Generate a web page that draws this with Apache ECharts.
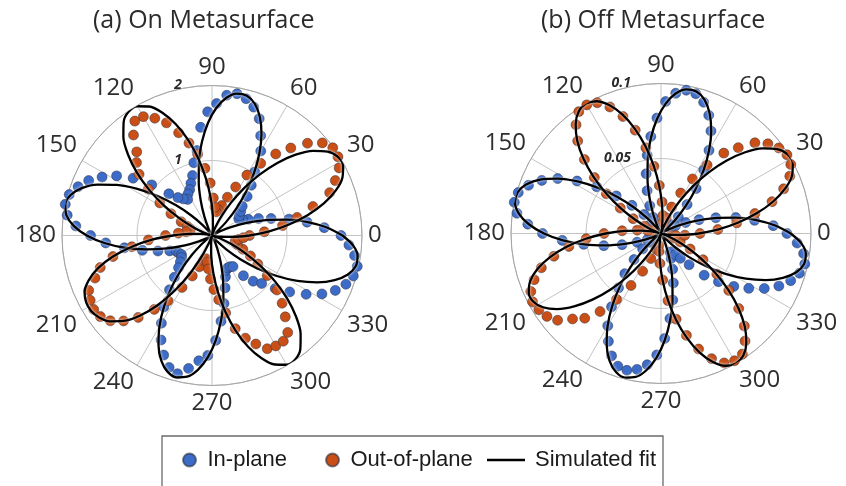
<!DOCTYPE html>
<html>
<head>
<meta charset="utf-8">
<script src="https://cdn.jsdelivr.net/npm/echarts@6/dist/echarts.min.js"></script>
<style>
html,body{margin:0;padding:0;background:#fff;}
#chart{width:846px;height:486px;}
</style>
</head>
<body>
<div id="chart"></div>
<script>
// polarisation angle (degrees), 4-degree steps
const angles = [0,4,8,12,16,20,24,28,32,36,40,44,48,52,56,60,64,68,72,76,80,84,88,92,96,100,104,108,112,116,120,124,128,132,136,140,144,148,152,156,160,164,168,172,176,180,184,188,192,196,200,204,208,212,216,220,224,228,232,236,240,244,248,252,256,260,264,268,272,276,280,284,288,292,296,300,304,308,312,316,320,324,328,332,336,340,344,348,352,356];

// (a) On Metasurface
const onInPlane = [1.72,1.50,1.28,1.05,0.82,0.66,0.53,0.46,0.42,0.45,
0.50,0.56,0.70,0.85,1.02,1.30,1.48,1.68,1.80,1.88,
1.92,1.88,1.76,1.65,1.45,1.15,1.00,0.84,0.75,0.68,
0.64,0.58,0.62,0.68,0.80,1.05,1.30,1.50,1.66,1.80,
1.90,1.98,2.00,1.95,1.82,1.62,1.42,1.18,0.95,0.75,
0.60,0.52,0.50,0.48,0.50,0.55,0.62,0.75,0.92,1.15,
1.35,1.55,1.72,1.85,1.90,1.80,1.68,1.60,1.40,1.15,
0.92,0.72,0.58,0.50,0.48,0.48,0.50,0.68,0.82,0.92,
1.10,1.28,1.48,1.66,1.80,1.90,1.96,1.98,1.92,1.83];
const onOutPlane = [0.50,0.70,0.95,1.16,1.40,1.67,1.80,1.92,1.98,1.99,
1.92,1.77,1.57,1.38,1.16,0.93,0.72,0.55,0.42,0.35,
0.32,0.38,0.50,0.70,0.90,1.10,1.27,1.44,1.62,1.74,
1.83,1.84,1.70,1.50,1.40,1.27,1.05,0.82,0.62,0.45,
0.35,0.30,0.30,0.35,0.45,0.62,0.85,1.08,1.35,1.55,
1.66,1.80,1.84,1.86,1.84,1.77,1.64,1.47,1.25,1.05,
0.80,0.60,0.45,0.35,0.32,0.36,0.45,0.58,0.72,0.86,
1.05,1.28,1.44,1.56,1.68,1.70,1.70,1.64,1.46,1.30,
1.13,0.91,0.72,0.58,0.45,0.36,0.32,0.32,0.36,0.42];
const onFitIn = [1.740,1.536,1.289,1.019,0.747,0.493,0.276,0.115,0.021,0.021,
0.113,0.271,0.483,0.731,0.999,1.263,1.505,1.704,1.847,1.921,
1.921,1.847,1.704,1.505,1.263,0.999,0.731,0.483,0.271,0.113,
0.021,0.002,0.060,0.191,0.384,0.625,0.895,1.174,1.438,1.669,
1.848,1.961,2.000,1.961,1.848,1.669,1.438,1.174,0.895,0.625,
0.384,0.191,0.060,0.002,0.059,0.186,0.375,0.610,0.873,1.144,
1.402,1.627,1.802,1.912,1.950,1.912,1.802,1.627,1.402,1.144,
0.873,0.610,0.375,0.186,0.059,0.002,0.002,0.021,0.115,0.276,
0.493,0.747,1.019,1.289,1.536,1.740,1.885,1.960,1.960,1.885];
const onFitOut = [0.498,0.754,1.030,1.302,1.551,1.757,1.904,1.980,1.980,1.904,
1.757,1.551,1.302,1.030,0.754,0.498,0.279,0.116,0.022,0.002,
0.022,0.117,0.281,0.500,0.758,1.035,1.309,1.559,1.766,1.914,
1.990,1.990,1.914,1.766,1.559,1.309,1.035,0.758,0.500,0.281,
0.117,0.022,0.060,0.150,0.300,0.520,0.800,1.080,1.350,1.580,
1.750,1.860,1.900,1.900,1.860,1.780,1.640,1.440,1.180,0.880,
0.580,0.300,0.100,0.010,0.002,0.022,0.117,0.281,0.500,0.758,
1.035,1.309,1.559,1.766,1.914,1.990,1.990,1.914,1.766,1.559,
1.309,1.035,0.758,0.500,0.281,0.117,0.022,0.022,0.116,0.279];

// (b) Off Metasurface
const offInPlane = [0.084,0.075,0.063,0.051,0.038,0.027,0.018,0.011,0.008,0.007,
0.009,0.016,0.026,0.038,0.051,0.064,0.076,0.085,0.092,0.096,
0.097,0.094,0.088,0.077,0.065,0.053,0.041,0.030,0.020,0.012,
0.008,0.007,0.010,0.017,0.027,0.039,0.053,0.066,0.078,0.087,
0.094,0.099,0.100,0.097,0.089,0.079,0.066,0.052,0.039,0.027,
0.017,0.010,0.007,0.007,0.010,0.016,0.025,0.036,0.046,0.059,
0.071,0.080,0.088,0.093,0.094,0.092,0.088,0.081,0.070,0.057,
0.045,0.034,0.025,0.018,0.014,0.014,0.017,0.021,0.028,0.040,
0.050,0.060,0.069,0.078,0.086,0.092,0.096,0.098,0.096,0.091];
const offOutPlane = [0.026,0.038,0.051,0.064,0.077,0.087,0.094,0.098,0.099,0.097,
0.093,0.087,0.077,0.068,0.055,0.042,0.030,0.019,0.011,0.007,
0.008,0.012,0.021,0.032,0.045,0.058,0.071,0.082,0.091,0.097,
0.099,0.098,0.092,0.083,0.071,0.058,0.045,0.032,0.021,0.012,
0.007,0.006,0.009,0.016,0.026,0.038,0.050,0.062,0.073,0.083,
0.090,0.095,0.097,0.096,0.094,0.090,0.082,0.076,0.066,0.053,
0.040,0.028,0.018,0.011,0.008,0.008,0.012,0.020,0.031,0.045,
0.058,0.070,0.081,0.090,0.096,0.098,0.097,0.091,0.083,0.072,
0.059,0.046,0.033,0.022,0.014,0.009,0.007,0.007,0.010,0.016];
const offFitIn = [0.0865,0.0764,0.0641,0.0507,0.0371,0.0245,0.0137,0.0057,0.0011,0.0011,
0.0057,0.0137,0.0245,0.0371,0.0507,0.0641,0.0764,0.0865,0.0938,0.0975,
0.0975,0.0938,0.0865,0.0764,0.0641,0.0507,0.0371,0.0245,0.0137,0.0057,
0.0011,0.0011,0.0059,0.0140,0.0250,0.0379,0.0517,0.0655,0.0780,0.0883,
0.0957,0.0995,0.0995,0.0957,0.0883,0.0780,0.0655,0.0517,0.0379,0.0250,
0.0140,0.0059,0.0011,0.0001,0.0030,0.0095,0.0190,0.0310,0.0443,0.0581,
0.0712,0.0826,0.0915,0.0971,0.0990,0.0971,0.0915,0.0826,0.0712,0.0581,
0.0443,0.0310,0.0190,0.0095,0.0030,0.0001,0.0001,0.0011,0.0057,0.0137,
0.0245,0.0371,0.0507,0.0641,0.0764,0.0865,0.0938,0.0975,0.0975,0.0938];
const offFitOut = [0.0250,0.0379,0.0517,0.0655,0.0780,0.0883,0.0957,0.0995,0.0995,0.0957,
0.0883,0.0780,0.0655,0.0517,0.0379,0.0250,0.0140,0.0059,0.0011,0.0001,
0.0030,0.0096,0.0192,0.0313,0.0448,0.0587,0.0719,0.0835,0.0924,0.0981,
0.1000,0.0981,0.0924,0.0835,0.0719,0.0587,0.0448,0.0313,0.0192,0.0096,
0.0030,0.0011,0.0057,0.0136,0.0243,0.0368,0.0502,0.0635,0.0756,0.0857,
0.0928,0.0965,0.0965,0.0928,0.0857,0.0756,0.0635,0.0502,0.0368,0.0243,
0.0136,0.0057,0.0011,0.0001,0.0001,0.0030,0.0096,0.0192,0.0313,0.0448,
0.0587,0.0719,0.0835,0.0924,0.0981,0.1000,0.0981,0.0924,0.0835,0.0719,
0.0587,0.0448,0.0313,0.0192,0.0096,0.0030,0.0001,0.0011,0.0059,0.0140];

const titles = ['(a) On Metasurface', '(b) Off Metasurface'];
const radiusMax = [2, 0.1];
const radiusStep = [1, 0.05];
const legendNames = ['In-plane', 'Out-of-plane', 'Simulated fit'];

const BLUE = '#3D6CC8', ORANGE = '#C94F16';

function toPolar(vals, close) {
  const d = angles.map((a, i) => [vals[i], a]);
  if (close) d.push([vals[0], 360]);
  return d;
}

const centers = [[212, 235.5], [661, 233.5]];
const R = 150;

const polar = [], angleAxis = [], radiusAxis = [];
centers.forEach((c, k) => {
  polar.push({center: c, radius: R});
  polar.push({center: c, radius: R});
  angleAxis.push({
    polarIndex: 2 * k, type: 'value', min: 0, max: 360, interval: 30,
    startAngle: 0, clockwise: false,
    axisLine: {lineStyle: {color: '#a6a6a6', width: 1}},
    axisTick: {show: false},
    splitLine: {lineStyle: {color: '#c4c4c4', width: 1}},
    axisLabel: {
      fontFamily: 'Open Sans', fontSize: 24, color: '#2e2e2e', margin: 6,
      formatter: v => (v === 360 ? '' : String(v))
    }
  });
  angleAxis.push({
    polarIndex: 2 * k + 1, type: 'value', min: 0, max: 360, startAngle: 90,
    show: false
  });
  radiusAxis.push({
    polarIndex: 2 * k, type: 'value', min: 0, max: radiusMax[k], interval: radiusStep[k],
    axisLine: {show: false}, axisTick: {show: false}, axisLabel: {show: false},
    splitLine: {lineStyle: {color: '#c4c4c4', width: 1}}
  });
  radiusAxis.push({
    polarIndex: 2 * k + 1, type: 'value', min: 0, max: radiusMax[k], interval: radiusStep[k],
    axisLine: {show: false}, axisTick: {show: false}, splitLine: {show: false},
    axisLabel: {
      fontFamily: 'Open Sans', fontStyle: 'italic', fontWeight: 'bold', fontSize: 14,
      color: '#2b2b2b', margin: 30,
      formatter: v => (v === 0 ? '' : String(v))
    }
  });
});

const scatterStyle = col => ({
  color: col, opacity: 1, borderColor: 'rgba(40,45,60,0.6)', borderWidth: 0.8
});
const lineStyle = {color: '#000', width: 2.3, shadowColor: 'rgba(255,255,255,1)', shadowBlur: 3};

const series = [];
[[onInPlane, onOutPlane, onFitIn, onFitOut], [offInPlane, offOutPlane, offFitIn, offFitOut]].forEach((set, k) => {
  const pi = 2 * k;
  series.push({name: legendNames[0], type: 'scatter', coordinateSystem: 'polar', polarIndex: pi,
    symbol: 'circle', symbolSize: 10, itemStyle: scatterStyle(BLUE), data: toPolar(set[0], false), z: 2});
  series.push({name: legendNames[1], type: 'scatter', coordinateSystem: 'polar', polarIndex: pi,
    symbol: 'circle', symbolSize: 10, itemStyle: scatterStyle(ORANGE), data: toPolar(set[1], false), z: 2});
  series.push({name: legendNames[2], type: 'line', coordinateSystem: 'polar', polarIndex: pi,
    symbol: 'none', showSymbol: false, smooth: 0.3, lineStyle: lineStyle, itemStyle: {color: '#000'},
    data: toPolar(set[2], true), z: 3});
  series.push({name: legendNames[2], type: 'line', coordinateSystem: 'polar', polarIndex: pi,
    symbol: 'none', showSymbol: false, smooth: 0.3, lineStyle: lineStyle, itemStyle: {color: '#000'},
    data: toPolar(set[3], true), z: 3});
});

const chart = echarts.init(document.getElementById('chart'), null, {renderer: 'canvas'});
chart.setOption({
  animation: false,
  backgroundColor: '#fff',
  title: [
    {text: titles[0], left: 93, top: 8, padding: 0,
      textStyle: {fontFamily: 'Open Sans', fontSize: 25, fontWeight: 'normal', color: '#2b2b2b'}},
    {text: titles[1], left: 541, top: 8, padding: 0,
      textStyle: {fontFamily: 'Open Sans', fontSize: 25, fontWeight: 'normal', color: '#2b2b2b'}}
  ],
  polar, angleAxis, radiusAxis,
  legend: [
    {data: [legendNames[0], legendNames[1]], left: 182, top: 449, padding: 0,
      itemWidth: 26, itemHeight: 13, itemGap: 38, icon: 'circle',
      textStyle: {fontFamily: 'Liberation Sans', fontSize: 22, color: '#1a1a1a'}},
    {data: [{name: legendNames[2], icon: 'rect'}], left: 487, top: 449, padding: 0,
      itemWidth: 38, itemHeight: 2.5,
      itemStyle: {color: '#000', borderWidth: 0},
      textStyle: {fontFamily: 'Liberation Sans', fontSize: 22, color: '#1a1a1a', padding: [0, 0, 0, 5]}}
  ],
  graphic: [
    {type: 'rect', shape: {x: 162, y: 436, width: 501, height: 80},
      style: {fill: 'none', stroke: '#6a6a6a', lineWidth: 1.3}, silent: true}
  ],
  series
});
</script>
</body>
</html>
